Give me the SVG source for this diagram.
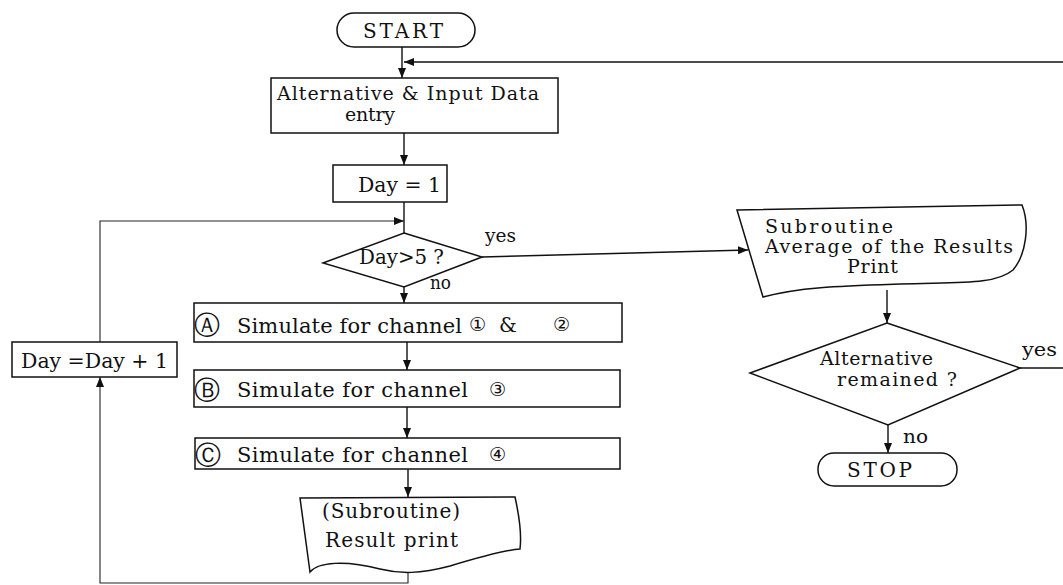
<svg xmlns="http://www.w3.org/2000/svg" width="1063" height="585" viewBox="0 0 1063 585">
  <style>
    .shape { fill: #ffffff; stroke: #111111; stroke-width: 1.5; }
    .wire { fill: none; stroke: #111111; stroke-width: 1.4; }
    .thin { fill: none; stroke: #222222; stroke-width: 1.1; }
    text { font-family: "DejaVu Serif", "Liberation Serif", serif; font-size: 20px; fill: #111111; }
    .multi { font-size: 19px; }
    .lbl { font-size: 19px; }
    .big { font-size: 21px; }
    .circ { font-family: "DejaVu Sans", "Noto Sans", sans-serif; font-size: 26px; }
    .num { font-family: "DejaVu Sans", "Noto Sans", sans-serif; font-size: 19px; }
  </style>
  <defs>
    <marker id="arrow" viewBox="0 0 10 8" refX="10" refY="4" markerWidth="10" markerHeight="8" markerUnits="userSpaceOnUse" orient="auto">
      <path d="M0,0 L10,4 L0,8 Z" fill="#111111"/>
    </marker>
  </defs>

  <!-- connectors -->
  <g id="connectors">
    <line class="wire" x1="402" y1="47" x2="402" y2="78" marker-end="url(#arrow)"/>
    <line class="wire" x1="1063" y1="62" x2="404" y2="62" marker-end="url(#arrow)"/>
    <line class="wire" x1="404" y1="133" x2="404" y2="165" marker-end="url(#arrow)"/>
    <line class="wire" x1="404" y1="202" x2="404" y2="233"/>
    <polyline class="thin" points="100,342 100,221 404,221" marker-end="url(#arrow)"/>
    <line class="wire" x1="482" y1="257" x2="748" y2="250" marker-end="url(#arrow)"/>
    <line class="wire" x1="404" y1="287" x2="404" y2="303" marker-end="url(#arrow)"/>
    <line class="wire" x1="407" y1="342" x2="407" y2="370" marker-end="url(#arrow)"/>
    <line class="wire" x1="407" y1="407" x2="407" y2="438" marker-end="url(#arrow)"/>
    <line class="wire" x1="408" y1="469" x2="408" y2="497" marker-end="url(#arrow)"/>
    <polyline class="thin" points="408,573 408,583 100,583 100,377" marker-end="url(#arrow)"/>
    <line class="wire" x1="887" y1="290" x2="887" y2="323" marker-end="url(#arrow)"/>
    <line class="wire" x1="1020" y1="368" x2="1063" y2="368"/>
    <line class="wire" x1="888" y1="425" x2="888" y2="453" marker-end="url(#arrow)"/>
    <text class="lbl" x="485" y="242" textLength="31" lengthAdjust="spacingAndGlyphs">yes</text>
    <text class="lbl" x="430" y="289" textLength="21" lengthAdjust="spacingAndGlyphs">no</text>
    <text class="lbl" x="1022" y="356" textLength="35" lengthAdjust="spacingAndGlyphs">yes</text>
    <text class="lbl" x="903" y="443" textLength="25" lengthAdjust="spacingAndGlyphs">no</text>
  </g>

  <g id="start">
    <rect class="shape" x="337" y="13" width="138" height="34" rx="17"/>
    <text x="363" y="38" font-size="21" textLength="80" lengthAdjust="spacing">START</text>
  </g>

  <g id="input-entry">
    <rect class="shape" x="271" y="78" width="287" height="55"/>
    <text class="multi" x="277" y="100" textLength="262" lengthAdjust="spacing">Alternative &amp; Input Data</text>
    <text class="multi" x="345" y="121" textLength="50" lengthAdjust="spacing">entry</text>
  </g>

  <g id="day-init">
    <rect class="shape" x="333" y="165" width="114" height="37"/>
    <text x="358" y="192" font-size="21" textLength="83" lengthAdjust="spacingAndGlyphs">Day = 1</text>
  </g>

  <g id="day-check">
    <polygon class="shape" points="404,233 482,257 404,287 323,263"/>
    <text x="359" y="264" textLength="85" lengthAdjust="spacingAndGlyphs">Day&gt;5 ?</text>
  </g>

  <g id="sim-a">
    <rect class="shape" x="194" y="303" width="428" height="39"/>
    <text class="circ" x="194" y="334">Ⓐ</text>
    <text class="big" x="237" y="333" textLength="225" lengthAdjust="spacing">Simulate for channel</text>
    <text class="num" x="469" y="331">①</text>
    <text x="499" y="332">&amp;</text>
    <text class="num" x="553" y="331">②</text>
  </g>

  <g id="sim-b">
    <rect class="shape" x="194" y="370" width="426" height="37"/>
    <text class="circ" x="194" y="399">Ⓑ</text>
    <text class="big" x="237" y="397" textLength="231" lengthAdjust="spacing">Simulate for channel</text>
    <text class="num" x="489" y="396">③</text>
  </g>

  <g id="sim-c">
    <rect class="shape" x="195" y="438" width="425" height="31"/>
    <text class="circ" x="195" y="464">Ⓒ</text>
    <text class="big" x="237" y="462" textLength="231" lengthAdjust="spacing">Simulate for channel</text>
    <text class="num" x="489" y="461">④</text>
  </g>

  <g id="result-print">
    <path class="shape" d="M300,498 L515,497 C519,515 522,533 520,549 C505,550 480,557 450,566 C420,574 400,574 380,569 C345,560 318,562 310,572 Z"/>
    <text x="322" y="518" textLength="138" lengthAdjust="spacing">(Subroutine)</text>
    <text x="325" y="547" textLength="133" lengthAdjust="spacing">Result print</text>
  </g>

  <g id="day-increment">
    <rect class="shape" x="12" y="342" width="165" height="35"/>
    <text x="21" y="368" font-size="21" textLength="147" lengthAdjust="spacingAndGlyphs">Day =Day + 1</text>
  </g>

  <g id="average-print">
    <path class="shape" d="M737,210 L1022,205 C1030,225 1026,255 1013,270 C995,285 960,282 900,284 C840,286 800,287 763,297 Z"/>
    <text class="multi" x="765" y="233" textLength="128" lengthAdjust="spacing">Subroutine</text>
    <text class="multi" x="765" y="253" textLength="248" lengthAdjust="spacing">Average of the Results</text>
    <text class="multi" x="847" y="273" textLength="51" lengthAdjust="spacing">Print</text>
  </g>

  <g id="alt-check">
    <polygon class="shape" points="887,323 1020,368 888,425 750,373"/>
    <text class="multi" x="820" y="365" textLength="113" lengthAdjust="spacing">Alternative</text>
    <text class="multi" x="837" y="386" textLength="120" lengthAdjust="spacing">remained ?</text>
  </g>

  <g id="stop">
    <rect class="shape" x="818" y="453" width="139" height="33" rx="16"/>
    <text x="847" y="477" textLength="65" lengthAdjust="spacing">STOP</text>
  </g>
</svg>
